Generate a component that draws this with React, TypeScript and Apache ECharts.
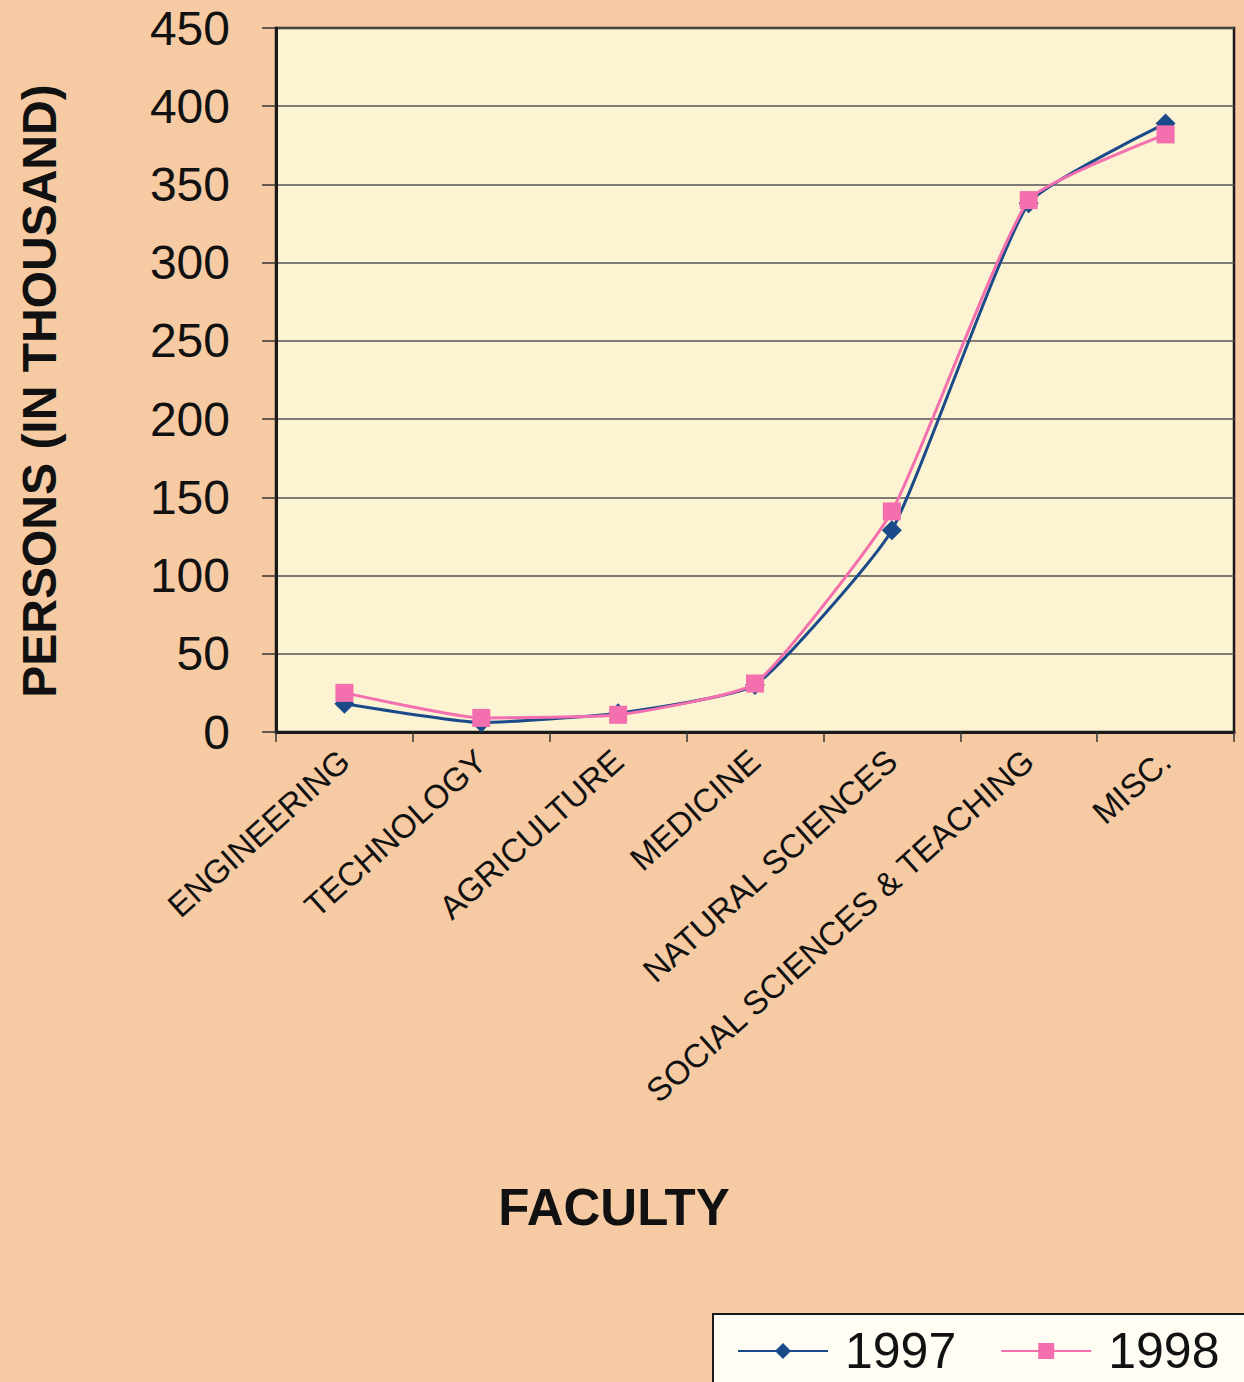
import React, { useEffect, useRef } from "react";
import * as echarts from "echarts";

const categories = [
  "ENGINEERING",
  "TECHNOLOGY",
  "AGRICULTURE",
  "MEDICINE",
  "NATURAL SCIENCES",
  "SOCIAL SCIENCES & TEACHING",
  "MISC.",
];
const values1997 = [18, 6, 12, 30, 129, 338, 389];
const values1998 = [25, 9, 11, 31, 141, 340, 382];
const yTicks = [0, 50, 100, 150, 200, 250, 300, 350, 400, 450];
const xTitle = "FACULTY";
const yTitle = "PERSONS (IN THOUSAND)";

const FONT = "'Liberation Sans', Arial, Helvetica, sans-serif";

export default function App() {
  const ref = useRef<HTMLDivElement>(null);
  useEffect(() => {
    document.body.style.margin = "0";
    const chart = echarts.init(ref.current!, null, { renderer: "svg" });
    chart.setOption({
      animation: false,
      backgroundColor: "#F6CAA3",
      textStyle: { fontFamily: FONT },
      grid: {
        left: 276,
        right: 10,
        top: 28,
        bottom: 650,
        show: true,
        backgroundColor: "#FCF3D2",
        borderColor: "#1a1a1a",
        borderWidth: 2.5,
      },
      graphic: [
        {
          type: "rect",
          z: 0,
          shape: { x: 713, y: 1314, width: 600, height: 100 },
          style: { fill: "#FFFDF4", stroke: "#1a1a1a", lineWidth: 2 },
        },
        {
          type: "text",
          x: 614,
          y: 1207,
          style: {
            text: xTitle,
            fontSize: 51,
            fontWeight: "bold",
            fontFamily: FONT,
            fill: "#111",
            textAlign: "center",
            textVerticalAlign: "middle",
          },
        },
        {
          type: "text",
          x: 39,
          y: 391,
          rotation: Math.PI / 2,
          style: {
            text: yTitle,
            fontSize: 48,
            fontWeight: "bold",
            fontFamily: FONT,
            fill: "#111",
            textAlign: "center",
            textVerticalAlign: "middle",
          },
        },
      ],
      legend: {
        left: 713,
        top: 1316,
        z: 10,
        data: ["1997", "1998"],
        itemWidth: 90,
        itemHeight: 20,
        itemGap: 44,
        padding: [10, 4, 10, 24],
        textStyle: {
          fontSize: 50,
          color: "#111",
          fontFamily: FONT,
          padding: [0, 0, 0, 12],
        },
      },
      xAxis: {
        type: "category",
        data: categories,
        axisLine: { lineStyle: { color: "#1a1a1a", width: 3 } },
        axisTick: { show: true, length: 10, lineStyle: { color: "#333", width: 1.5 } },
        axisLabel: {
          rotate: 42,
          margin: 24,
          fontSize: 33,
          color: "#111",
          fontFamily: FONT,
          interval: 0,
        },
      },
      yAxis: {
        type: "value",
        min: 0,
        max: 450,
        interval: 50,
        axisLine: { show: true, lineStyle: { color: "#1a1a1a", width: 3 } },
        axisTick: { show: true, length: 14, lineStyle: { color: "#333", width: 1.5 } },
        axisLabel: {
          margin: 46,
          fontSize: 48,
          color: "#111",
          fontFamily: FONT,
          formatter: (v: number) => (yTicks.includes(v) ? String(v) : ""),
        },
        splitLine: { show: true, lineStyle: { color: "#555", width: 1.5 } },
      },
      series: [
        {
          name: "1997",
          type: "line",
          data: values1997,
          smooth: 0.15,
          symbol: "diamond",
          symbolSize: 20,
          itemStyle: { color: "#1B4A8A" },
          lineStyle: { color: "#1B4A8A", width: 3 },
          z: 2,
        },
        {
          name: "1998",
          type: "line",
          data: values1998,
          smooth: 0.15,
          symbol: "rect",
          symbolSize: 18,
          itemStyle: { color: "#F46FAE" },
          lineStyle: { color: "#F46FAE", width: 3 },
          z: 3,
        },
      ],
    });
    return () => chart.dispose();
  }, []);
  return (
    <div
      ref={ref}
      style={{ position: "absolute", left: 0, top: 0, width: 1244, height: 1382 }}
    />
  );
}
